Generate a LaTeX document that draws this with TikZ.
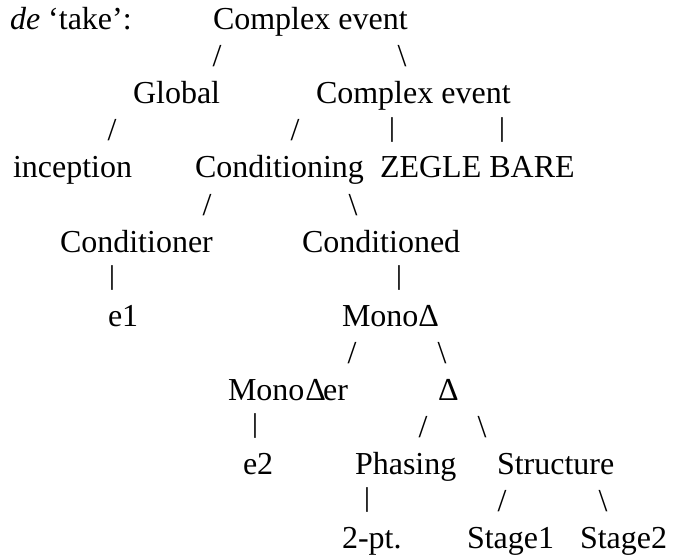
\documentclass[tikz,border=0pt]{standalone}
\usepackage{graphicx}
\usepackage{fontspec}
\setmainfont{Liberation Serif}
\newcommand{\shortbar}{\raisebox{4.5pt}{\scalebox{1}[0.85]{|}}}
\tikzset{
  word/.style={anchor=base west,inner sep=0pt,outer sep=0pt},
  tick/.style={anchor=base,inner sep=0pt,outer sep=0pt}
}
\begin{document}
\begin{tikzpicture}[x=1pt,y=-1pt,font=\fontsize{32}{37}\selectfont]
                \useasboundingbox (0,0) rectangle (677,556);
                %% level 1
                \node[word] (title) at (10,30) {\textit{de} ‘take’:};
                \node[word] (root) at (213,30) {Complex event};
                \node[tick] (r-l) at (217,67) {/};
                \node[tick] (r-r) at (402,67) {\textbackslash};
                %% level 2
                \node[word] (glob) at (133,104) {Global};
                \node[word] (cplx) at (316,104) {Complex event};
                \node[tick] (g-l) at (112,141) {/};
                \node[tick] (c-l) at (295,141) {/};
                \node[tick] (c-m) at (392,141) {\shortbar};
                \node[tick] (c-r) at (502,141) {\shortbar};
                %% level 3
                \node[word] (incep) at (13,178) {inception};
                \node[word] (cond) at (195,178) {Conditioning};
                \node[word] (zegle) at (380,178) {ZEGLE BARE};
                \node[tick] (cd-l) at (207,215) {/};
                \node[tick] (cd-r) at (353,215) {\textbackslash};
                %% level 4
                \node[word] (condr) at (60,252) {Conditioner};
                \node[word] (condd) at (302,252) {Conditioned};
                \node[tick] (cr-m) at (112,289) {\shortbar};
                \node[tick] (cn-m) at (399,289) {\shortbar};
                %% level 5
                \node[word] (e1) at (108,326) {e1};
                \node[word] (mono) at (342,326) {MonoΔ};
                \node[tick] (m-l) at (352,363) {/};
                \node[tick] (m-r) at (442,363) {\textbackslash};
                %% level 6
                \node[word] (monor) at (228,400) {Mono\kern1ptΔ\kern-3pter};
                \node[word] (delta) at (438,400) {Δ};
                \node[tick] (mr-m) at (255,437) {\shortbar};
                \node[tick] (d-l) at (423,437) {/};
                \node[tick] (d-r) at (482,437) {\textbackslash};
                %% level 7
                \node[word] (e2) at (243,474) {e2};
                \node[word] (phas) at (355,474) {Phasing};
                \node[word] (struc) at (497,474) {Structure};
                \node[tick] (p-m) at (367,511) {\shortbar};
                \node[tick] (s-l) at (502,511) {/};
                \node[tick] (s-r) at (603,511) {\textbackslash};
                %% level 8
                \node[word] (twopt) at (342,548) {2-pt.};
                \node[word] (stg1) at (467,548) {Stage1};
                \node[word] (stg2) at (580,548) {Stage2};
            \end{tikzpicture}
\end{document}
